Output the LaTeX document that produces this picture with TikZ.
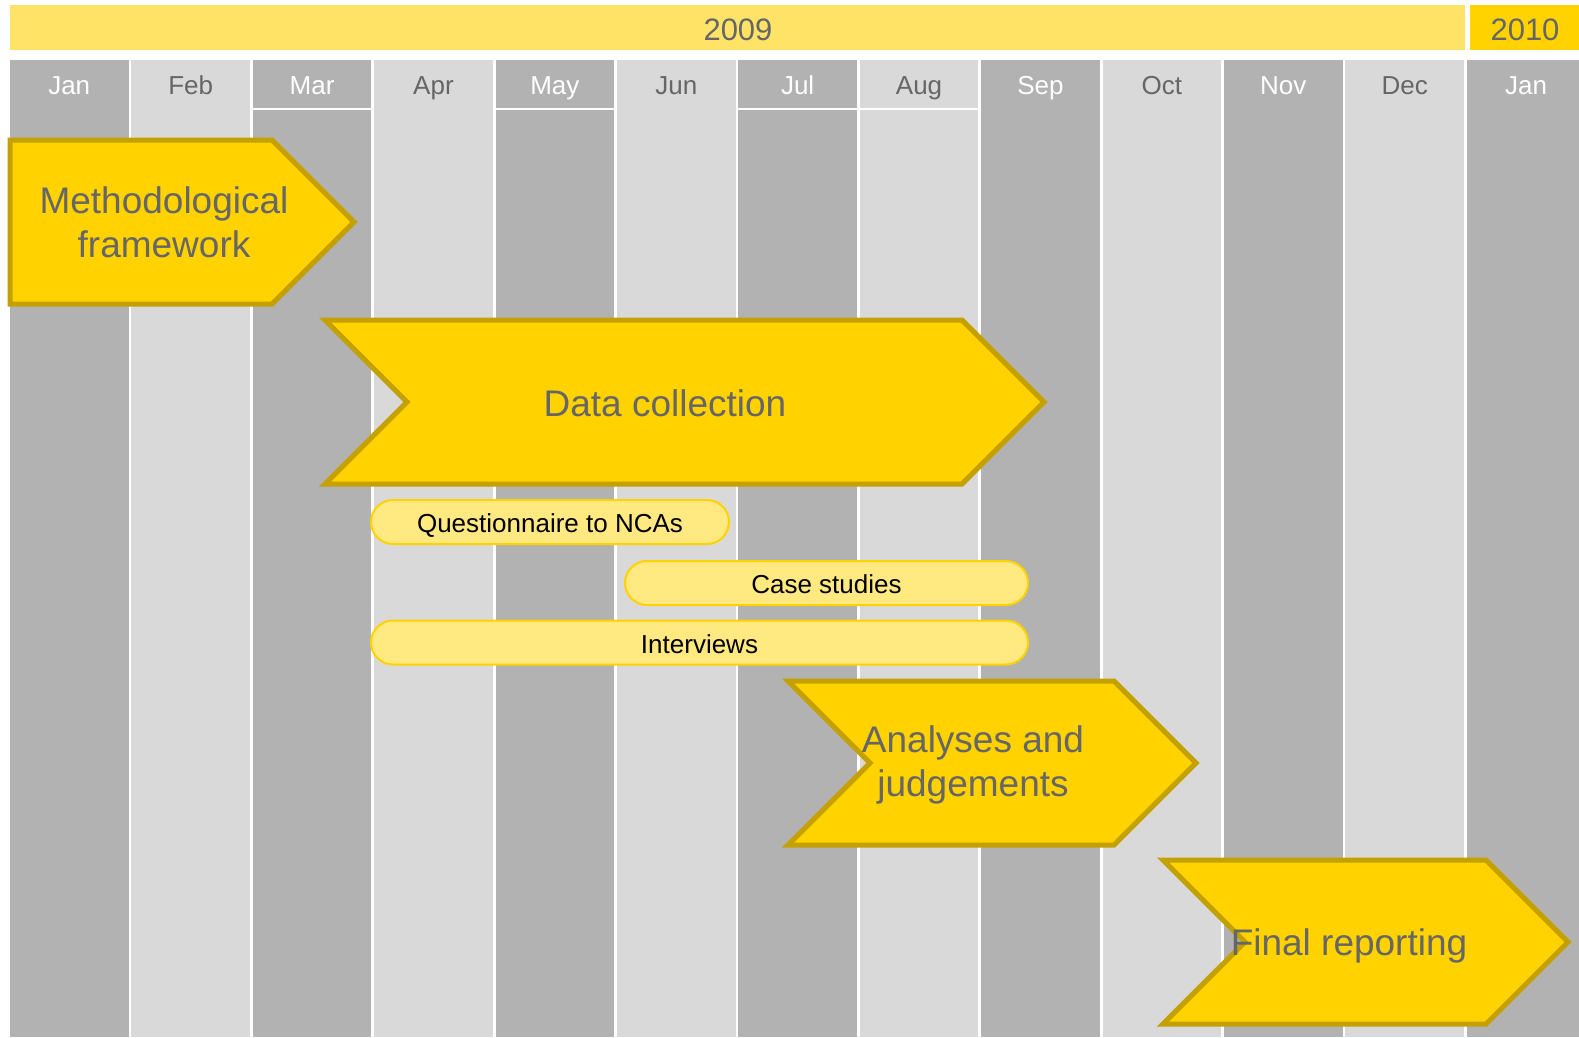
\documentclass[tikz,border=0pt]{standalone}
\usepackage{fontspec}
\setmainfont{Liberation Sans}

\definecolor{darkcol}{HTML}{B2B2B2}
\definecolor{lightcol}{HTML}{D9D9D9}
\definecolor{yearlight}{HTML}{FFE366}
\definecolor{phasefill}{HTML}{FFD200}
\definecolor{phaseedge}{HTML}{C4A000}
\definecolor{pillfill}{HTML}{FFE980}
\definecolor{labelgray}{HTML}{666666}

\tikzset{
  phase/.style={draw=phaseedge, fill=phasefill, line width=5pt},
  phasetext/.style={text=labelgray, font=\fontsize{37}{44}\selectfont, align=center},
  pill/.style={draw=phasefill, fill=pillfill, line width=2pt, rounded corners=22pt,
    minimum height=44pt, text height=21pt, text depth=0pt, font=\fontsize{26}{30}\selectfont},
  month/.style={font=\fontsize{26}{30}\selectfont, anchor=base},
  year/.style={text=labelgray, font=\fontsize{31}{36}\selectfont, anchor=base}
}

\begin{document}
\begin{tikzpicture}[x=1pt, y=-1pt]
\clip (0,0) rectangle (1579,1037);

% year bars
\fill[yearlight] (10,5) rectangle (1465,50);
\fill[phasefill] (1470,5) rectangle (1579,50);
\node[year] (y2009) at (738,40) {2009};
\node[year] (y2010) at (1525,40) {2010};

% month columns
\foreach \m/\c/\t [count=\i from 0] in {Jan/darkcol/white, Feb/lightcol/labelgray,
    Mar/darkcol/white, Apr/lightcol/labelgray, May/darkcol/white, Jun/lightcol/labelgray,
    Jul/darkcol/white, Aug/lightcol/labelgray, Sep/darkcol/white, Oct/lightcol/labelgray,
    Nov/darkcol/white, Dec/lightcol/labelgray, Jan/darkcol/white}{
  \fill[\c] ({10+121.4*\i},60) rectangle ++(118.5,977);
  \node[month, text=\t] (m\i) at ({69.25+121.4*\i},94) {\m};
}
\foreach \i in {2,4,6,7}
  \draw[white, line width=2pt] ({10+121.4*\i},109) -- ++(118.5,0);

% phases
\draw[phase] (10,140) -- (272,140) -- (354,222) -- (272,304) -- (10,304) -- cycle;
\node[phasetext] (method) at (164,222) {Methodological\\framework};

\draw[phase] (325,320) -- (962,320) -- (1044,402) -- (962,484) -- (325,484) -- (407,402) -- cycle;
\node[phasetext, anchor=base] (data) at (665,416) {Data collection};

\draw[phase] (788,681) -- (1114,681) -- (1196,763) -- (1114,845) -- (788,845) -- (870,763) -- cycle;
\node[phasetext] (analyses) at (973,765) {Analyses and\\judgements};

\draw[phase] (1163,860) -- (1486,860) -- (1568,942) -- (1486,1024) -- (1163,1024) -- (1245,942) -- cycle;
\node[phasetext, anchor=base] (final) at (1349,955) {Final reporting};

% data collection tasks
\node[pill, minimum width=358pt] (quest) at (550,522) {Questionnaire to NCAs};
\node[pill, minimum width=403pt] (cases) at (826.5,583) {Case studies};
\node[pill, minimum width=657pt] (interv) at (699.5,642.5) {Interviews};
\end{tikzpicture}
\end{document}
